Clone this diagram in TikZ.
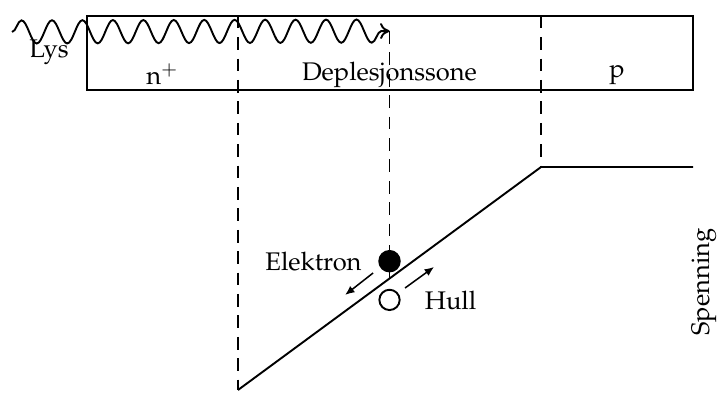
\documentclass[tikz,border=0pt]{standalone}
\usepackage[T1]{fontenc}
\usepackage{mathpazo}
\usetikzlibrary{arrows.meta,calc,positioning,decorations.pathmorphing}
\tikzset{
  main/.style={line width=0.75pt},
  guide/.style={line width=0.75pt,dash pattern=on 5pt off 3.4pt},
  wave/.style={line width=0.75pt,-{To[length=1.3mm,width=2.2mm]},decorate,
    decoration={snake,segment length=4.2mm,amplitude=1.6mm,post length=0.8mm}},
  drift/.style={line width=0.6pt,-{Latex[length=1.3mm,width=1.1mm]}},
  elec/.style={circle,fill=black,inner sep=0pt,minimum size=3.1mm},
  hole/.style={circle,draw,line width=0.75pt,fill=white,inner sep=0pt,minimum size=2.8mm},
  lbl/.style={font=\normalsize},
}
\begin{document}
\begin{tikzpicture}
    \useasboundingbox (0,0) rectangle (10,5.407);
    % ------------- top: the diode bar -------------
    \coordinate (sw) at (1.2,4.166);
    \coordinate (ne) at (9.559,5.19);
    \coordinate (nt) at (3.283,5.19);   % n+ / depletion boundary
    \coordinate (pt) at (7.462,5.19);   % depletion / p boundary
    \draw[main] (sw) rectangle (ne);
    \node[lbl] (nreg) at (2.24,4.38) {n$^+$};
    \node[lbl] (dreg) at (5.372,4.38) {Deplesjonssone};
    \node[lbl] (preg) at (8.51,4.38) {p};
    % ------------- bottom: voltage across the junction -------------
    \coordinate (nb) at (3.283,0.028);
    \coordinate (pk) at (7.462,3.103);
    \coordinate (pe) at (9.559,3.103);
    \draw[main] (nb) -- (pk) -- (pe);
    \draw[guide] (nt) -- (nb);
    \draw[guide] (pt) -- (pk);
    % light comes in and is absorbed halfway
    \coordinate (hit) at ($(nb)!0.5!(pk)$);
    \coordinate (src) at (0.166,4.966);
    \coordinate (w) at (hit |- 0,4.979);
    \draw[wave] (src) -- (w);
    \node[lbl] (lys) at (0.676,4.69) {Lys};
    \draw[guide] (w) -- (hit);
    % the pair that is made
    \node[elec] (e) at ($(hit)+(0,0.239)$) {};
    \node[hole] (h) at ($(hit)+(0,-0.295)$) {};
    \node[lbl] (elbl) at (4.324,1.8) {Elektron};
    \node[lbl] (hlbl) at (6.214,1.269) {Hull};
    \coordinate (e0) at ($(hit)+(-0.227,0.076)$);
    \coordinate (e1) at ($(hit)+(-0.613,-0.227)$);
    \coordinate (h0) at ($(hit)+(0.214,-0.131)$);
    \coordinate (h1) at ($(hit)+(0.614,0.159)$);
    \draw[drift] (e0) -- (e1);
    \draw[drift] (h0) -- (h1);
    \node[lbl,rotate=90] (volt) at (9.71,1.517) {Spenning};
\end{tikzpicture}
\end{document}
